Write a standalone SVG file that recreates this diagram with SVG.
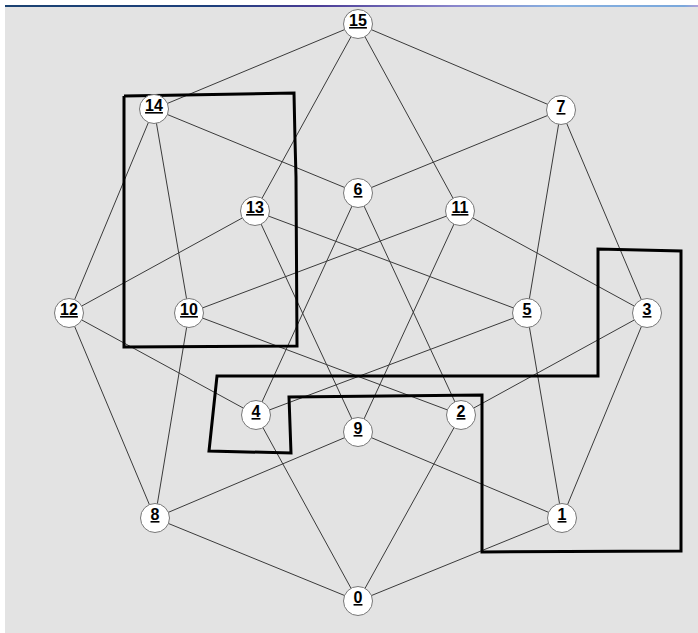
<svg xmlns="http://www.w3.org/2000/svg" width="698" height="633" viewBox="0 0 698 633">
<defs>
<linearGradient id="topbar" x1="0" y1="0" x2="1" y2="0">
<stop offset="0" stop-color="#1b4272"/>
<stop offset="0.3" stop-color="#1d3f7c"/>
<stop offset="0.45" stop-color="#4a3c96"/>
<stop offset="0.65" stop-color="#8a86cc"/>
<stop offset="0.8" stop-color="#86b0e0"/>
<stop offset="0.98" stop-color="#7aa8dc"/>
<stop offset="1" stop-color="#b0a0d8"/>
</linearGradient>
<style>
.e{stroke:#3a3a3a;stroke-width:1;fill:none}
.cut{stroke:#000;stroke-width:3;fill:none;stroke-linejoin:miter}
.n circle{fill:#fff;stroke:#777;stroke-width:1}
.n text{font-family:"Liberation Sans",Arial,sans-serif;font-weight:bold;font-size:16px;text-anchor:middle;fill:#000;text-decoration:underline;text-decoration-thickness:2px}
</style>
</defs>
<rect x="0" y="0" width="698" height="633" fill="#fff"/>
<rect x="5" y="6" width="693" height="627" fill="#e3e3e3"/>
<rect x="5" y="5" width="693" height="2" fill="url(#topbar)"/>
<g id="connectors">
<line class="e" x1="358" y1="24" x2="154" y2="109"/>
<line class="e" x1="358" y1="24" x2="561" y2="110"/>
<line class="e" x1="358" y1="24" x2="255" y2="211"/>
<line class="e" x1="358" y1="24" x2="460" y2="211"/>
<line class="e" x1="154" y1="109" x2="69" y2="313"/>
<line class="e" x1="154" y1="109" x2="189" y2="313"/>
<line class="e" x1="154" y1="109" x2="358" y2="193"/>
<line class="e" x1="561" y1="110" x2="358" y2="193"/>
<line class="e" x1="561" y1="110" x2="527" y2="313"/>
<line class="e" x1="561" y1="110" x2="647" y2="313"/>
<line class="e" x1="255" y1="211" x2="69" y2="313"/>
<line class="e" x1="255" y1="211" x2="358" y2="432"/>
<line class="e" x1="255" y1="211" x2="527" y2="313"/>
<line class="e" x1="460" y1="211" x2="189" y2="313"/>
<line class="e" x1="460" y1="211" x2="358" y2="432"/>
<line class="e" x1="460" y1="211" x2="647" y2="313"/>
<line class="e" x1="358" y1="193" x2="256" y2="415"/>
<line class="e" x1="358" y1="193" x2="461" y2="415"/>
<line class="e" x1="69" y1="313" x2="155" y2="518"/>
<line class="e" x1="69" y1="313" x2="256" y2="415"/>
<line class="e" x1="189" y1="313" x2="155" y2="518"/>
<line class="e" x1="189" y1="313" x2="461" y2="415"/>
<line class="e" x1="527" y1="313" x2="256" y2="415"/>
<line class="e" x1="527" y1="313" x2="562" y2="518"/>
<line class="e" x1="647" y1="313" x2="461" y2="415"/>
<line class="e" x1="647" y1="313" x2="562" y2="518"/>
<line class="e" x1="358" y1="432" x2="155" y2="518"/>
<line class="e" x1="358" y1="432" x2="562" y2="518"/>
<line class="e" x1="256" y1="415" x2="358" y2="601"/>
<line class="e" x1="461" y1="415" x2="358" y2="601"/>
<line class="e" x1="155" y1="518" x2="358" y2="601"/>
<line class="e" x1="562" y1="518" x2="358" y2="601"/>
</g>
<g id="cuts">
<polyline class="cut" points="124,96 184,95 294,93 295,140 296,177 297,346 124,347 124,96"/>
<polygon class="cut" points="217,376 598,376 598,249 681,251 681,551 482,552 482,395 289,397 291,453 209,451"/>
</g>
<g id="n0" class="n"><circle cx="358" cy="601" r="14.5"/><text x="358" y="603">0</text></g>
<g id="n1" class="n"><circle cx="562" cy="518" r="14.5"/><text x="562" y="520">1</text></g>
<g id="n2" class="n"><circle cx="461" cy="415" r="14.5"/><text x="461" y="417">2</text></g>
<g id="n3" class="n"><circle cx="647" cy="313" r="14.5"/><text x="647" y="315">3</text></g>
<g id="n4" class="n"><circle cx="256" cy="415" r="14.5"/><text x="256" y="417">4</text></g>
<g id="n5" class="n"><circle cx="527" cy="313" r="14.5"/><text x="527" y="315">5</text></g>
<g id="n6" class="n"><circle cx="358" cy="193" r="14.5"/><text x="358" y="195">6</text></g>
<g id="n7" class="n"><circle cx="561" cy="110" r="14.5"/><text x="561" y="112">7</text></g>
<g id="n8" class="n"><circle cx="155" cy="518" r="14.5"/><text x="155" y="520">8</text></g>
<g id="n9" class="n"><circle cx="358" cy="432" r="14.5"/><text x="358" y="434">9</text></g>
<g id="n10" class="n"><circle cx="189" cy="313" r="14.5"/><text x="189" y="315">10</text></g>
<g id="n11" class="n"><circle cx="460" cy="211" r="14.5"/><text x="460" y="213">11</text></g>
<g id="n12" class="n"><circle cx="69" cy="313" r="14.5"/><text x="69" y="315">12</text></g>
<g id="n13" class="n"><circle cx="255" cy="211" r="14.5"/><text x="255" y="213">13</text></g>
<g id="n14" class="n"><circle cx="154" cy="109" r="14.5"/><text x="154" y="111">14</text></g>
<g id="n15" class="n"><circle cx="358" cy="24" r="14.5"/><text x="358" y="26">15</text></g>
</svg>
